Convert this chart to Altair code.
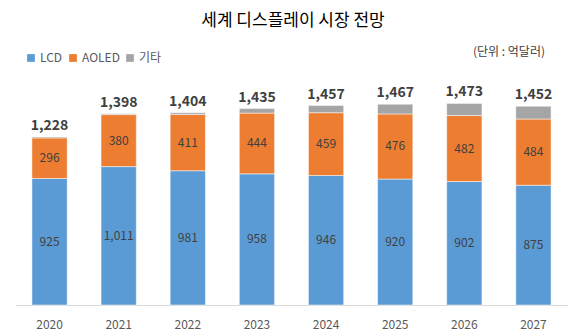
import altair as alt
import pandas as pd

years = ["2020", "2021", "2022", "2023", "2024", "2025", "2026", "2027"]
lcd = [925, 1011, 981, 958, 946, 920, 902, 875]
aoled = [296, 380, 411, 444, 459, 476, 482, 484]
totals = [1228, 1398, 1404, 1435, 1457, 1467, 1473, 1452]
other = [t - a - b for t, a, b in zip(totals, lcd, aoled)]
series = ["LCD", "AOLED", "기타"]
colors = ["#5B9BD5", "#ED7D31", "#A5A5A5"]

rows = []
for i, y in enumerate(years):
    for k, (s, vals) in enumerate(zip(series, [lcd, aoled, other])):
        rows.append({"year": y, "series": s, "value": vals[i], "order": k,
                     "label": vals[i] if s != "기타" else None})
df = pd.DataFrame(rows)
tot = pd.DataFrame({"year": years, "total": totals})

FONT = "Noto Sans CJK KR"
xenc = alt.X("year:N", title=None, sort=years,
             scale=alt.Scale(paddingInner=0.49, paddingOuter=0.245),
             axis=alt.Axis(labelAngle=0, ticks=False, domainColor="#D9D9D9",
                           labelColor="#595959", labelFontSize=12, labelPadding=14,
                           labelFont=FONT))
yscale = alt.Scale(domain=[0, 1600])

bars = alt.Chart(df).mark_bar(stroke="white", strokeWidth=0.5).encode(
    x=xenc,
    y=alt.Y("value:Q", stack="zero", scale=yscale, axis=None),
    color=alt.Color("series:N", sort=series,
                    scale=alt.Scale(domain=series, range=colors),
                    legend=alt.Legend(title=None, orient="none", legendX=10, legendY=-34,
                                      direction="horizontal", symbolType="square",
                                      symbolSize=60, labelFontSize=12, labelColor="#595959",
                                      labelFont=FONT, columnPadding=4, labelOffset=3,
                                      symbolStrokeWidth=0)),
    order=alt.Order("order:Q"),
)

seg = alt.Chart(df).transform_stack(
    stack="value", groupby=["year"], sort=[alt.SortField("order")], as_=["y0", "y1"]
).transform_calculate(mid="(datum.y0 + datum.y1) / 2").transform_filter(
    "datum.label != null"
).mark_text(fontSize=12, color="#404040", font=FONT).encode(
    x=alt.X("year:N", sort=years),
    y=alt.Y("mid:Q", scale=yscale),
    text=alt.Text("label:Q", format=","),
)

top = alt.Chart(tot).mark_text(fontSize=14, fontWeight="bold", color="#404040",
                               dy=-11, font=FONT).encode(
    x=alt.X("year:N", sort=years),
    y=alt.Y("total:Q", scale=yscale),
    text=alt.Text("total:Q", format=","),
)

unit = alt.Chart(tot).mark_text(fontSize=12, color="#404040", align="right", font=FONT).encode(
    x=alt.value(530), y=alt.value(-34), text=alt.value("(단위 : 억달러)")
).transform_filter("datum.year == '2020'")

title = alt.Chart(tot).mark_text(fontSize=17, color="#000000", align="center", font=FONT).encode(
    x=alt.value(278), y=alt.value(-65), text=alt.value("세계 디스플레이 시장 전망")
).transform_filter("datum.year == '2020'")

chart = alt.layer(bars, seg, top, unit, title).properties(
    width=553, height=219,
    autosize=alt.AutoSizeParams(type="none"),
    padding={"left": 15, "top": 86, "right": 8, "bottom": 31},
).configure_view(stroke=None)

chart.save("out.html", embed_options={"renderer": "svg", "actions": False})
